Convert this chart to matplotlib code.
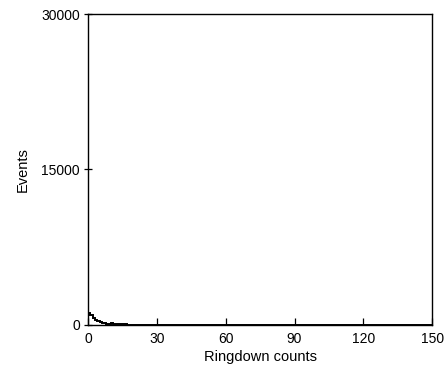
import numpy as np
import matplotlib
matplotlib.use('Agg')
import matplotlib.pyplot as plt

plt.rcParams['font.family'] = ['Liberation Sans', 'DejaVu Sans']

# Ringdown count histogram (bins of width 1)
counts_first = [1100, 900, 650, 450, 320, 230, 170, 130, 110, 120,
                140, 110, 80, 60, 45, 35, 30, 25, 20, 18]
tail_level = [15] * 130
events = np.array(counts_first + tail_level)
bin_edges = np.arange(0, 151, 1)

xticks = [0, 30, 60, 90, 120, 150]
yticks = [0, 15000, 30000]

fig = plt.figure(figsize=(4.45, 3.79), dpi=100)
ax = fig.add_axes([0.198, 0.143, 0.773, 0.82])

ax.stairs(events, bin_edges, color='black', linewidth=1.4)

ax.set_xlim(0, 150)
ax.set_ylim(0, 30000)
ax.set_xticks(xticks)
ax.set_yticks(yticks)
ax.tick_params(direction='in', length=5, width=0.9, labelsize=10)
ax.tick_params(axis='x', pad=5)
ax.tick_params(axis='y', direction='inout', length=6, pad=3)
for s in ax.spines.values():
    s.set_linewidth(1.0)
    s.set_color('black')

ax.set_xlabel('Ringdown counts', fontsize=10.5, labelpad=3)
ax.set_ylabel('Events', fontsize=10.5, labelpad=8)

fig.savefig('out.png', dpi=100)
